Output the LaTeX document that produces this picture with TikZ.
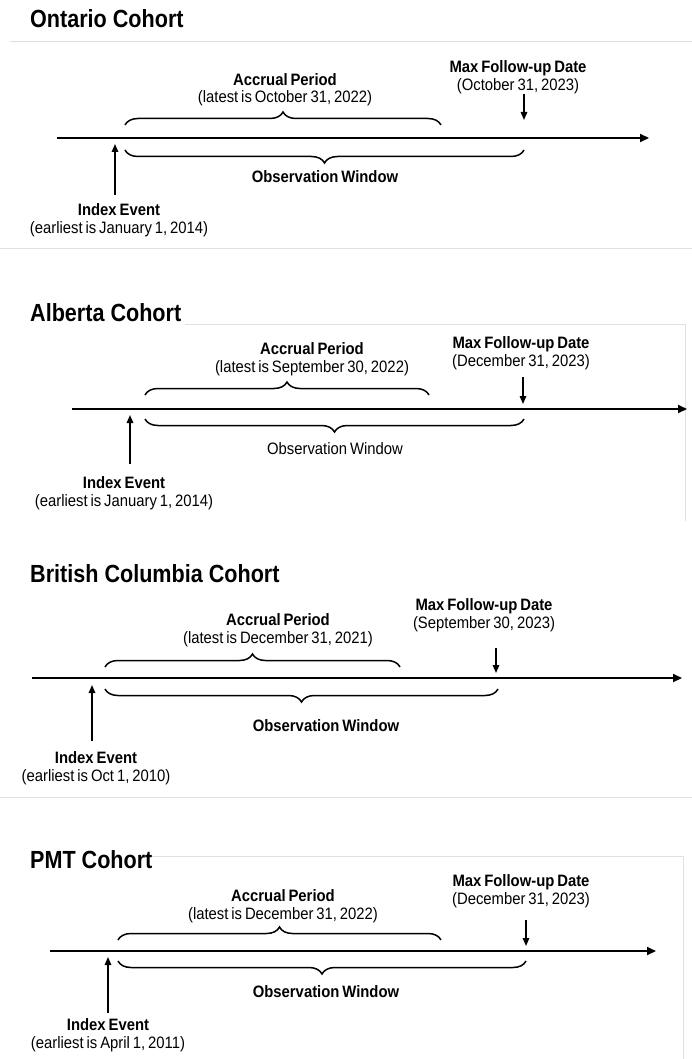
\documentclass[tikz,border=0pt]{standalone}
\usepackage{fontspec}
\setmainfont{Liberation Sans}[FakeStretch=0.9,WordSpace=0.7]
\newfontfamily\titlefont{Liberation Sans}[FakeStretch=0.87]
\usetikzlibrary{arrows.meta,decorations.pathreplacing}
\begin{document}
\begin{tikzpicture}[x=1pt,y=-1pt,
  paneltitle/.style={anchor=base west,inner sep=0pt,font=\titlefont\bfseries\fontsize{24.8}{28}\selectfont},
  lbl/.style={align=center,inner sep=0pt,font=\fontsize{16.5}{17.5}\selectfont},
  axisline/.style={line width=2pt,-{Triangle[length=9pt,width=8pt]}},
  evarrow/.style={line width=1.5pt,-{Triangle[length=8pt,width=6.5pt]}},
  bracetop/.style={line width=1.5pt,decorate,decoration={brace,amplitude=13pt}},
  panelline/.style={draw=black!12,line width=0.8pt}]
\useasboundingbox (0,0) rectangle (692,1059);

% ---------------- Ontario ----------------
\draw[panelline] (10,41) -- (692,41);
\draw[panelline] (0,248) -- (692,248);
\node[paneltitle] (t1) at (30,28) {Ontario Cohort};
\node[lbl] (acc1) at (285,89.5) {\textbf{Accrual Period}\\(latest is October 31, 2022)};
\node[lbl] (mfu1) at (518,77) {\textbf{Max Follow-up Date}\\(October 31, 2023)};
\coordinate (a1s) at (57,138); \coordinate (a1e) at (649,138);
\draw[axisline] (a1s) -- (a1e);
\coordinate (ub1s) at (125,125); \coordinate (ub1e) at (441,125);
\draw[bracetop] (ub1s) -- (ub1e);
\coordinate (d1s) at (524,94); \coordinate (d1e) at (524,120);
\draw[evarrow] (d1s) -- (d1e);
\coordinate (lb1s) at (524,150); \coordinate (lb1e) at (125,150);
\draw[bracetop] (lb1s) -- (lb1e);
\node[lbl] (obs1) at (325,177) {\textbf{Observation Window}};
\node[lbl] (idx1) at (119,220) {\textbf{Index Event}\\(earliest is January 1, 2014)};
\coordinate (u1s) at (115,195); \coordinate (u1e) at (115,144);
\draw[evarrow] (u1s) -- (u1e);

% ---------------- Alberta ----------------
\draw[panelline] (185,324) -- (685,324) -- (685,521);
\node[paneltitle] (t2) at (30,321) {Alberta Cohort};
\node[lbl] (acc2) at (312,359) {\textbf{Accrual Period}\\(latest is September 30, 2022)};
\node[lbl] (mfu2) at (521,353) {\textbf{Max Follow-up Date}\\(December 31, 2023)};
\coordinate (a2s) at (72,409); \coordinate (a2e) at (687,409);
\draw[axisline] (a2s) -- (a2e);
\coordinate (ub2s) at (145,395); \coordinate (ub2e) at (429,395);
\draw[bracetop] (ub2s) -- (ub2e);
\coordinate (d2s) at (523,377); \coordinate (d2e) at (523,404);
\draw[evarrow] (d2s) -- (d2e);
\coordinate (lb2s) at (524,419); \coordinate (lb2e) at (145,419);
\draw[bracetop] (lb2s) -- (lb2e);
\node[lbl] (obs2) at (335,449) {Observation Window};
\node[lbl] (idx2) at (124,493) {\textbf{Index Event}\\(earliest is January 1, 2014)};
\coordinate (u2s) at (130,464); \coordinate (u2e) at (130,415);
\draw[evarrow] (u2s) -- (u2e);

% ---------------- British Columbia ----------------
\draw[panelline] (0,797) -- (692,797);
\node[paneltitle] (t3) at (30,582) {British Columbia Cohort};
\node[lbl] (acc3) at (278,630) {\textbf{Accrual Period}\\(latest is December 31, 2021)};
\node[lbl] (mfu3) at (484,615) {\textbf{Max Follow-up Date}\\(September 30, 2023)};
\coordinate (a3s) at (32,678); \coordinate (a3e) at (682,678);
\draw[axisline] (a3s) -- (a3e);
\coordinate (ub3s) at (105,667); \coordinate (ub3e) at (400,667);
\draw[bracetop] (ub3s) -- (ub3e);
\coordinate (d3s) at (496,648); \coordinate (d3e) at (496,673);
\draw[evarrow] (d3s) -- (d3e);
\coordinate (lb3s) at (498,689); \coordinate (lb3e) at (105,689);
\draw[bracetop] (lb3s) -- (lb3e);
\node[lbl] (obs3) at (326,726) {\textbf{Observation Window}};
\node[lbl] (idx3) at (96,768) {\textbf{Index Event}\\(earliest is Oct 1, 2010)};
\coordinate (u3s) at (92,741); \coordinate (u3e) at (92,685);
\draw[evarrow] (u3s) -- (u3e);

% ---------------- PMT ----------------
\draw[panelline] (152,856) -- (683,856) -- (683,1059);
\node[paneltitle] (t4) at (30,868) {PMT Cohort};
\node[lbl] (acc4) at (283,906) {\textbf{Accrual Period}\\(latest is December 31, 2022)};
\node[lbl] (mfu4) at (521,891) {\textbf{Max Follow-up Date}\\(December 31, 2023)};
\coordinate (a4s) at (50,951); \coordinate (a4e) at (656,951);
\draw[axisline] (a4s) -- (a4e);
\coordinate (ub4s) at (118,940); \coordinate (ub4e) at (441,940);
\draw[bracetop] (ub4s) -- (ub4e);
\coordinate (d4s) at (526,920); \coordinate (d4e) at (526,946);
\draw[evarrow] (d4s) -- (d4e);
\coordinate (lb4s) at (526,961); \coordinate (lb4e) at (118,961);
\draw[bracetop] (lb4s) -- (lb4e);
\node[lbl] (obs4) at (326,992) {\textbf{Observation Window}};
\node[lbl] (idx4) at (108,1035) {\textbf{Index Event}\\(earliest is April 1, 2011)};
\coordinate (u4s) at (108,1013); \coordinate (u4e) at (108,957);
\draw[evarrow] (u4s) -- (u4e);
\end{tikzpicture}
\end{document}
